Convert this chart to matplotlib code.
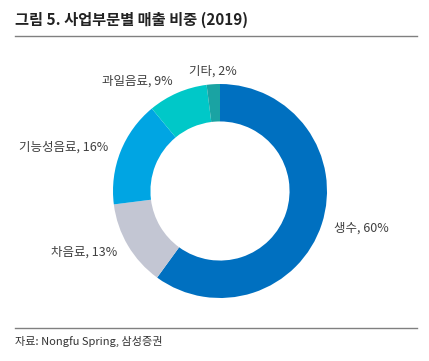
import matplotlib
matplotlib.use("Agg")
import matplotlib.pyplot as plt
from matplotlib.lines import Line2D

plt.rcParams["font.family"] = ["Noto Sans CJK KR", "DejaVu Sans"]

# data
categories = ["생수", "차음료", "기능성음료", "과일음료", "기타"]
shares = [60, 13, 16, 9, 2]
colors = ["#0070C0", "#C3C6D3", "#00A5E3", "#00C8C8", "#1AA3A3"]

title = "그림 5. 사업부문별 매출 비중 (2019)"
source = "자료: Nongfu Spring, 삼성증권"

W, H = 429, 361
fig = plt.figure(figsize=(W / 100, H / 100), dpi=100)

# donut centred at (220, 191) px, radius 107 px
cx, cy, r = 220, 191, 107
ax = fig.add_axes([(cx - r) / W, (H - cy - r) / H, 2 * r / W, 2 * r / H])
labels = [f"{c}, {s}%" for c, s in zip(categories, shares)]
wedges, texts = ax.pie(shares, colors=colors, labels=labels, startangle=90,
                       counterclock=False, labeldistance=1.12,
                       wedgeprops=dict(width=0.35, edgecolor="none"),
                       textprops=dict(fontsize=9, color="#404040"))
texts[-1].set_ha("center")
ax.set_xlim(-1, 1); ax.set_ylim(-1, 1)
ax.set_aspect("equal")

fig.text(15 / W, 1 - 20 / H, title, fontsize=11, fontweight="bold", color="#222222", va="center")
fig.add_artist(Line2D([15 / W, 417 / W], [1 - 36 / H, 1 - 36 / H], color="#808080", lw=1))
fig.add_artist(Line2D([15 / W, 417 / W], [1 - 328 / H, 1 - 328 / H], color="#808080", lw=1))
fig.text(15 / W, 1 - 341 / H, source, fontsize=8, color="#333333", va="center")

fig.savefig("out.png", dpi=100)
